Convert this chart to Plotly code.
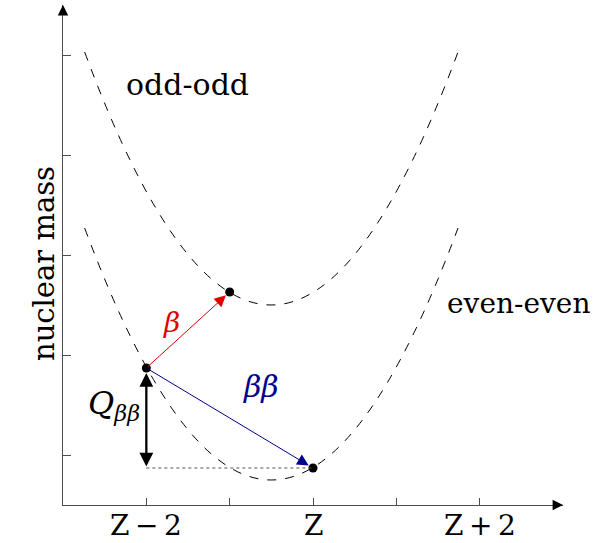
import plotly.graph_objects as go

# ---- data (Z is placed at 0) ----
tick_pos = [-2, -1, 0, 1, 2]
tick_text = ["Z\u2009\u2212\u20092", "", "Z", "", "Z\u2009+\u20092"]
mass_ticks = [1, 2, 3, 4, 5]

# parabola curves: start, vertex, end
curve_x = [-2.74, -0.5, 1.74]
odd_odd_y = [5.03, 2.50, 5.03]
even_even_y = [3.27, 0.75, 3.27]

# nuclei involved in the decays
nuc_x = [-2, -1, 0]
nuc_y = [1.87, 2.63, 0.87]

AX = "#4d4d4d"
SERIF = "DejaVu Serif"

fig = go.Figure()

def parabola_path(xs, ys):
    # quadratic Bezier through start, vertex, end
    cx = xs[1]
    cy = 2 * ys[1] - ys[0]
    return f"M {xs[0]},{ys[0]} Q {cx},{cy} {xs[2]},{ys[2]}"

for ys in (odd_odd_y, even_even_y):
    fig.add_shape(type="path", path=parabola_path(curve_x, ys), xref="x", yref="y",
                  line=dict(color="black", width=1, dash="dash"), layer="below")

# dotted reference line at final energy
fig.add_shape(type="line", x0=nuc_x[0], y0=nuc_y[2], x1=nuc_x[2], y1=nuc_y[2],
              xref="x", yref="y", line=dict(color="#555555", width=1.2, dash="dot"))

fig.add_trace(go.Scatter(x=nuc_x, y=nuc_y, mode="markers",
                         marker=dict(color="black", size=9), showlegend=False,
                         hoverinfo="skip"))

ann = []
# beta arrow
ann.append(dict(x=nuc_x[1], y=nuc_y[1], ax=nuc_x[0], ay=nuc_y[0], xref="x", yref="y",
                axref="x", ayref="y", text="", showarrow=True, arrowhead=2,
                arrowsize=2.3, arrowwidth=1, arrowcolor="#e00000", standoff=5))
# double beta arrow
ann.append(dict(x=nuc_x[2], y=nuc_y[2], ax=nuc_x[0], ay=nuc_y[0], xref="x", yref="y",
                axref="x", ayref="y", text="", showarrow=True, arrowhead=2,
                arrowsize=2.3, arrowwidth=1, arrowcolor="#00008f", standoff=5))
# Q value arrow
ann.append(dict(x=nuc_x[0], y=nuc_y[0], ax=nuc_x[0], ay=nuc_y[2], xref="x", yref="y",
                axref="x", ayref="y", text="", showarrow=True, arrowhead=2,
                startarrowhead=2, arrowside="end+start", arrowsize=1.2,
                arrowwidth=2.3, arrowcolor="black", standoff=5))
# axis arrowheads
ann.append(dict(x=3.0, y=0.5, ax=2.9, ay=0.5, xref="x", yref="y", axref="x", ayref="y",
                text="", showarrow=True, arrowhead=2, arrowsize=1.6, arrowwidth=1.3,
                arrowcolor="black"))
ann.append(dict(x=-3.0, y=5.5, ax=-3.0, ay=5.4, xref="x", yref="y", axref="x", ayref="y",
                text="", showarrow=True, arrowhead=2, arrowsize=1.6, arrowwidth=1.3,
                arrowcolor="black"))

# tick labels of the Z axis
for tx, tt in zip(tick_pos, tick_text):
    if tt:
        ann.append(dict(x=tx, y=-0.004, xref="x", yref="paper", text=tt,
                        showarrow=False, yanchor="top",
                        font=dict(family=SERIF, size=28, color="black")))

# text labels
ann.append(dict(x=-1.51, y=4.71, xref="x", yref="y", text="odd-odd", showarrow=False,
                font=dict(family=SERIF, size=30, color="black")))
ann.append(dict(x=2.47, y=2.52, xref="x", yref="y", text="even-even", showarrow=False,
                font=dict(family=SERIF, size=28, color="black")))
ann.append(dict(x=-1.70, y=2.33, xref="x", yref="y", text="<i>β</i>", showarrow=False,
                font=dict(family=SERIF, size=28, color="#e00000")))
ann.append(dict(x=-0.62, y=1.69, xref="x", yref="y", text="<i>ββ</i>", showarrow=False,
                font=dict(family=SERIF, size=30, color="#00008f")))
ann.append(dict(x=-2.39, y=1.50, xref="x", yref="y",
                text="<i>Q</i><sub><i>ββ</i></sub>", showarrow=False,
                font=dict(family=SERIF, size=32, color="black")))
ann.append(dict(x=-0.076, y=0.482, xref="paper", yref="paper", text="nuclear mass",
                textangle=-90, showarrow=False,
                font=dict(family=SERIF, size=29, color="black")))

fig.update_layout(
    width=593, height=543,
    margin=dict(l=63, r=30, t=5, b=38, autoexpand=False),
    paper_bgcolor="white", plot_bgcolor="white",
    annotations=ann,
    xaxis=dict(range=[-3, 3], tickvals=tick_pos, showticklabels=False, ticks="inside",
               ticklen=7, tickcolor=AX, tickwidth=1.2, showline=True, linecolor=AX,
               linewidth=1.3, showgrid=False, zeroline=False, automargin=False),
    yaxis=dict(range=[0.5, 5.5], tickvals=mass_ticks, showticklabels=False,
               ticks="inside", ticklen=8, tickcolor=AX, tickwidth=1.2, showline=True,
               linecolor=AX, linewidth=1.3, showgrid=False, zeroline=False,
               automargin=False),
)

fig.write_html("out.html")
